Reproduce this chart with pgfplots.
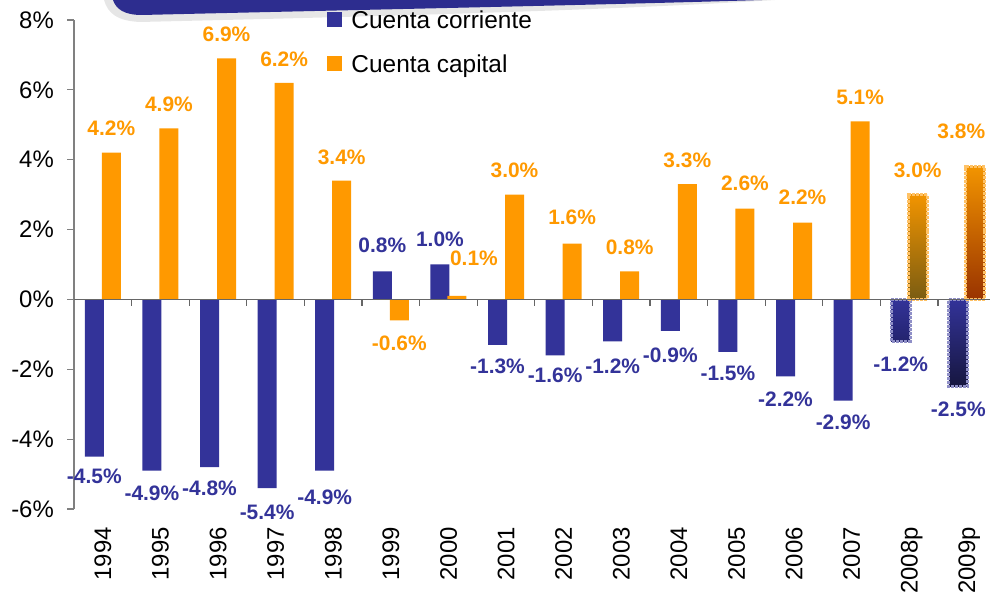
\documentclass[border=0pt]{standalone}
\usepackage{pgfplots}
\pgfplotsset{compat=1.18}
\usepackage{pgfplotstable}
\usepackage{fontspec}
\setmainfont{Liberation Sans}
\definecolor{cblue}{HTML}{333399}
\definecolor{corange}{HTML}{FF9900}
\definecolor{axgray}{HTML}{808080}
\definecolor{zgray}{HTML}{666666}
\definecolor{swoosh}{HTML}{2D2D8F}
\definecolor{bdarkA}{HTML}{24246E}
\definecolor{bdarkB}{HTML}{16163F}
\definecolor{odarkA}{HTML}{7A5C12}
\definecolor{odarkB}{HTML}{993300}
\definecolor{otop}{HTML}{F29400}

% x y lab dx dy  (dx, dy: label offsets in bp)
\pgfplotstableread{
x y lab dx dy
0 -4.5 -4.5 0 -12
1 -4.9 -4.9 0 -15
2 -4.8 -4.8 0 -14
3 -5.4 -5.4 0 -17
4 -4.9 -4.9 0 -19
5 0.8 0.8 0 19
6 1.0 1.0 0 18
7 -1.3 -1.3 0 -14
8 -1.6 -1.6 0 -12
9 -1.2 -1.2 0 -17
10 -0.9 -0.9 0 -17
11 -1.5 -1.5 0 -14
12 -2.2 -2.2 0 -15
13 -2.9 -2.9 0 -14
14 -1.2 -1.2 0 -15
15 -2.5 -2.5 0 -15
}\corr

\pgfplotstableread{
x y lab dx dy
0 4.2 4.2 0 17
1 4.9 4.9 0 17
2 6.9 6.9 0 17
3 6.2 6.2 0 16
4 3.4 3.4 0 16
5 -0.6 -0.6 0 -15
6 0.1 0.1 17 30
7 3.0 3.0 0 17
8 1.6 1.6 0 19
9 0.8 0.8 0 17
10 3.3 3.3 0 17
11 2.6 2.6 0 18
12 2.2 2.2 0 18
13 5.1 5.1 0 17
14 3.0 3.0 0 17
15 3.8 3.8 -14 28
}\capi

\newcommand{\labfont}{\bfseries\fontsize{21}{21}\selectfont}

\pgfplotsset{
  labstyle/.style n args={3}{
    forget plot, draw=none, mark=none,
    point meta=explicit symbolic,
    nodes near coords={\pgfplotspointmeta\%},
    visualization depends on={\thisrow{dx} \as \dx},
    visualization depends on={\thisrow{dy} \as \dy},
    every node near coord/.append style={anchor=#2, xshift=#3, xshift=\dx bp, yshift=\dy bp,
      inner sep=0pt, font=\labfont, text=#1},
  },
}

\begin{document}
\begin{tikzpicture}
% decorative swoosh at the top
\fill[gray!35, opacity=0.55] (104bp,600bp) .. controls (108bp,586bp) and (118bp,579bp) .. (140bp,578bp)
  .. controls (350bp,583bp) and (600bp,589bp) .. (775bp,600bp) -- cycle;
\fill[swoosh] (113bp,600bp) .. controls (116bp,591bp) and (124bp,585bp) .. (142bp,585bp)
  .. controls (350bp,590bp) and (600bp,595bp) .. (762bp,600bp) -- cycle;

\begin{axis}[
  at={(74bp,91bp)}, anchor=south west,
  scale only axis, width=921.6bp, height=489bp,
  xmin=-0.5, xmax=15.5, ymin=-6, ymax=8,
  clip=false,
  axis y line*=left, axis x line*=bottom,
  x axis line style={draw=none},
  y axis line style={axgray, line width=1.2bp},
  ytick={-6,-4,-2,0,2,4,6,8},
  yticklabels={-6\%,-4\%,-2\%,0\%,2\%,4\%,6\%,8\%},
  xtick={0,...,15},
  xticklabels={1994,1995,1996,1997,1998,1999,2000,2001,2002,2003,2004,2005,2006,2007,2008p,2009p},
  tick align=outside,
  major tick length=7bp,
  ytick style={axgray, line width=1.2bp},
  xtick style={draw=none},
  tick label style={font=\fontsize{24}{24}\selectfont, text=black},
  yticklabel style={inner sep=0pt, xshift=-13bp},
  xticklabel style={yshift=-11bp, rotate=90, anchor=east, inner sep=0pt, text depth=0pt},
  legend style={at={(0.2745,1.0204)}, anchor=north west, draw=none, fill=none,
    inner sep=0pt, outer sep=0pt,
    font=\fontsize{24.5}{24.5}\selectfont,
    nodes={inner sep=0pt, text height=18bp, text depth=5bp},
    row sep=21bp, column sep=9bp},
  legend cell align=left,
  legend image code/.code={\fill[#1,draw=none] (0bp,-5.5bp) rectangle (15.5bp,10bp);},
]
% main bars
\addplot[ybar, bar width=19bp, bar shift=-8.5bp, fill=cblue, draw=none]
  table[x=x, y=y, restrict x to domain=-1:13.5] {\corr};
\addlegendentry{Cuenta corriente}
\addplot[ybar, bar width=19bp, bar shift=8.5bp, fill=corange, draw=none]
  table[x=x, y=y, restrict x to domain=-1:13.5] {\capi};
\addlegendentry{Cuenta capital}

% projected bars (shaded)
\addplot[forget plot, ybar, bar width=19bp, bar shift=-8.5bp, top color=cblue, bottom color=bdarkA,
  draw=cblue!55!white, line width=3bp, densely dotted] coordinates {(14,-1.2)};
\addplot[forget plot, ybar, bar width=19bp, bar shift=-8.5bp, top color=cblue, bottom color=bdarkB,
  draw=cblue!55!white, line width=3bp, densely dotted] coordinates {(15,-2.5)};
\addplot[forget plot, ybar, bar width=19bp, bar shift=8.5bp, top color=otop, bottom color=odarkA,
  draw=corange!60!white, line width=3bp, densely dotted] coordinates {(14,3.0)};
\addplot[forget plot, ybar, bar width=19bp, bar shift=8.5bp, top color=otop, bottom color=odarkB,
  draw=corange!60!white, line width=3bp, densely dotted] coordinates {(15,3.8)};

% zero line with category ticks
\draw[zgray, line width=1.5bp] (axis cs:-0.5,0) -- (axis cs:15.5,0);
\pgfplotsinvokeforeach{0.5,1.5,...,14.5}{
  \draw[zgray, line width=1.2bp] (axis cs:#1,0) -- ([yshift=-7bp]axis cs:#1,0);
}

% value labels
\addplot[labstyle={cblue}{base}{-8.5bp}]
  table[x=x, y=y, meta=lab, restrict y to domain=0:20] {\corr};
\addplot[labstyle={cblue}{north}{-8.5bp}]
  table[x=x, y=y, meta=lab, restrict y to domain=-20:0] {\corr};
\addplot[labstyle={corange}{base}{8.5bp}]
  table[x=x, y=y, meta=lab, restrict y to domain=0:20] {\capi};
\addplot[labstyle={corange}{north}{8.5bp}]
  table[x=x, y=y, meta=lab, restrict y to domain=-20:0] {\capi};
\end{axis}
\pgfresetboundingbox
\useasboundingbox (0,0) rectangle (990bp,600bp);
\end{tikzpicture}
\end{document}
